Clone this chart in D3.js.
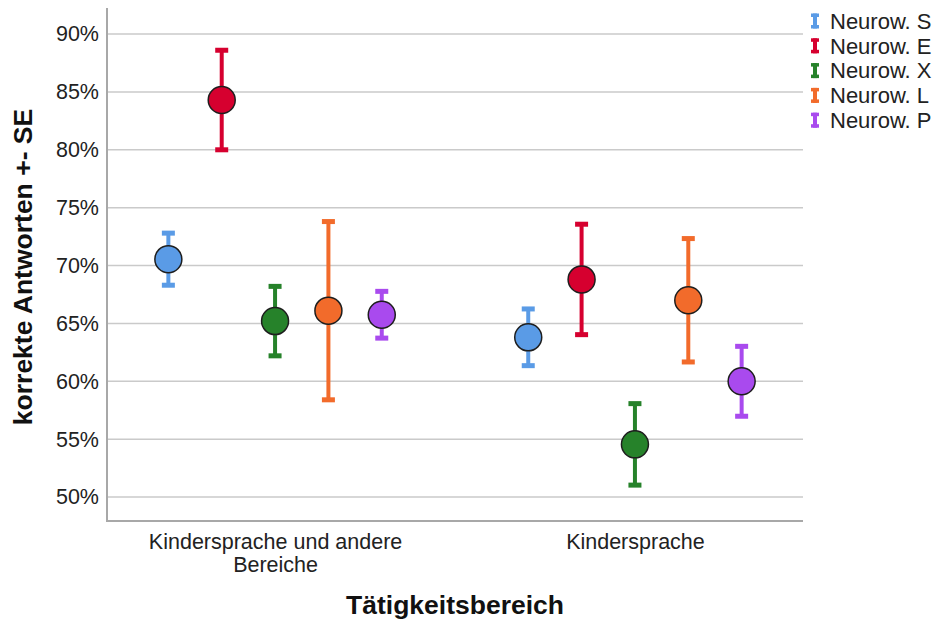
<!DOCTYPE html>
<html>
<head>
<meta charset="utf-8">
<script src="https://cdn.jsdelivr.net/npm/d3@7"></script>
<style>
  html, body { margin: 0; padding: 0; background: #fff; }
  svg { display: block; font-family: "Liberation Sans", Arial, Helvetica, sans-serif; }
</style>
</head>
<body>
<svg id="chart" width="933" height="620"></svg>
<script>
// Categories on the x axis
const categories = ["Kindersprache und andere Bereiche", "Kindersprache"];
const categoryLines = [["Kindersprache und andere", "Bereiche"], ["Kindersprache"]];

// Series (legend entries)
const series = ["Neurow. S", "Neurow. E", "Neurow. X", "Neurow. L", "Neurow. P"];
const seriesColors = ["#5A9BE6", "#D6002F", "#26822A", "#F26B2B", "#A94AEE"];

// Mean percentage correct per series, one value per category
const meanS = [70.55, 63.8];
const meanE = [84.3, 68.8];
const meanX = [65.2, 54.55];
const meanL = [66.1, 67.0];
const meanP = [65.75, 60.0];

// Standard error per series, one value per category
const seS = [2.25, 2.45];
const seE = [4.3, 4.77];
const seX = [3.0, 3.52];
const seL = [7.7, 5.33];
const seP = [2.02, 3.02];

// Y axis ticks (percent)
const yTicks = [50, 55, 60, 65, 70, 75, 80, 85, 90];

const means = [meanS, meanE, meanX, meanL, meanP];
const ses = [seS, seE, seX, seL, seP];

const rows = [];
series.forEach((s, i) => {
  categories.forEach((c, j) => {
    rows.push({ series: s, category: c, mean: means[i][j], se: ses[i][j], color: seriesColors[i] });
  });
});

const svg = d3.select("#chart");
const plotLeft = 107, plotRight = 803, plotTop = 8, plotBottom = 521;

const y = d3.scaleLinear().domain([47.93, 92.25]).range([plotBottom, plotTop]);
const x = d3.scalePoint().domain(categories).range([plotLeft, plotRight]).padding(0.467);
const dodge = d3.scalePoint().domain(series).range([-106.7, 106.7]);

// Gridlines
svg.append("g")
  .selectAll("line")
  .data(yTicks)
  .join("line")
  .attr("x1", plotLeft).attr("x2", plotRight)
  .attr("y1", d => y(d)).attr("y2", d => y(d))
  .attr("stroke", "#cacaca").attr("stroke-width", 1.5);

// Y axis
const yAxis = svg.append("g")
  .attr("transform", `translate(${plotLeft},0)`)
  .call(d3.axisLeft(y).tickValues(yTicks).tickSize(0).tickPadding(8).tickFormat(d => d + "%"));
yAxis.select(".domain").remove();
yAxis.selectAll("text")
  .attr("font-size", 21.5).attr("fill", "#222")
  .attr("font-family", "'Liberation Sans', Arial, sans-serif");

// X axis with two-line category labels
const xAxis = svg.append("g")
  .attr("transform", `translate(0,${plotBottom})`)
  .call(d3.axisBottom(x).tickSize(0).tickFormat(""));
xAxis.select(".domain").remove();
xAxis.selectAll(".tick").each(function(d) {
  const lines = categoryLines[categories.indexOf(d)];
  const t = d3.select(this).append("text")
    .attr("fill", "#222").attr("font-size", 21.5)
    .attr("text-anchor", "middle")
    .attr("font-family", "'Liberation Sans', Arial, sans-serif");
  lines.forEach((ln, k) => {
    t.append("tspan").attr("x", 0).attr("y", 28 + k * 22.5).text(ln);
  });
});

// Frame lines (left and bottom)
svg.append("line").attr("x1", plotLeft).attr("x2", plotLeft).attr("y1", plotTop).attr("y2", plotBottom)
  .attr("stroke", "#a8a8a8").attr("stroke-width", 2);
svg.append("line").attr("x1", plotLeft - 1).attr("x2", plotRight).attr("y1", plotBottom).attr("y2", plotBottom)
  .attr("stroke", "#a8a8a8").attr("stroke-width", 2);

// Error bars with mean markers
const capW = 13;
const eb = svg.append("g")
  .selectAll("g")
  .data(rows)
  .join("g")
  .attr("transform", d => `translate(${x(d.category) + dodge(d.series)},0)`);
eb.append("line")
  .attr("x1", 0).attr("x2", 0)
  .attr("y1", d => y(d.mean + d.se)).attr("y2", d => y(d.mean - d.se))
  .attr("stroke", d => d.color).attr("stroke-width", 4);
eb.append("rect")
  .attr("x", -capW / 2).attr("width", capW)
  .attr("y", d => y(d.mean + d.se) - 2.5).attr("height", 5)
  .attr("fill", d => d.color);
eb.append("rect")
  .attr("x", -capW / 2).attr("width", capW)
  .attr("y", d => y(d.mean - d.se) - 2.5).attr("height", 5)
  .attr("fill", d => d.color);
eb.append("circle")
  .attr("cx", 0).attr("cy", d => y(d.mean)).attr("r", 13.5)
  .attr("fill", d => d.color)
  .attr("stroke", "#1e1e1e").attr("stroke-width", 1.5);

// Axis titles
svg.append("text")
  .attr("transform", "translate(32,267) rotate(-90)")
  .attr("text-anchor", "middle")
  .attr("font-size", 26.5).attr("font-weight", "bold").attr("fill", "#111")
  .text("korrekte Antworten +- SE");
svg.append("text")
  .attr("x", (plotLeft + plotRight) / 2).attr("y", 614)
  .attr("text-anchor", "middle")
  .attr("font-size", 26.5).attr("font-weight", "bold").attr("fill", "#111")
  .text("Tätigkeitsbereich");

// Legend
const legend = svg.append("g")
  .selectAll("g")
  .data(series)
  .join("g")
  .attr("transform", (d, i) => `translate(815,${21 + i * 24.8})`);
legend.append("rect").attr("x", -2).attr("width", 4).attr("y", -7.5).attr("height", 15)
  .attr("fill", (d, i) => seriesColors[i]);
legend.append("rect").attr("x", -4).attr("width", 8).attr("y", -7.5).attr("height", 3.5)
  .attr("fill", (d, i) => seriesColors[i]);
legend.append("rect").attr("x", -4).attr("width", 8).attr("y", 4).attr("height", 3.5)
  .attr("fill", (d, i) => seriesColors[i]);
legend.append("text")
  .attr("x", 15).attr("y", 0).attr("dy", "0.35em")
  .attr("font-size", 22).attr("fill", "#222")
  .text(d => d);
</script>
</body>
</html>
